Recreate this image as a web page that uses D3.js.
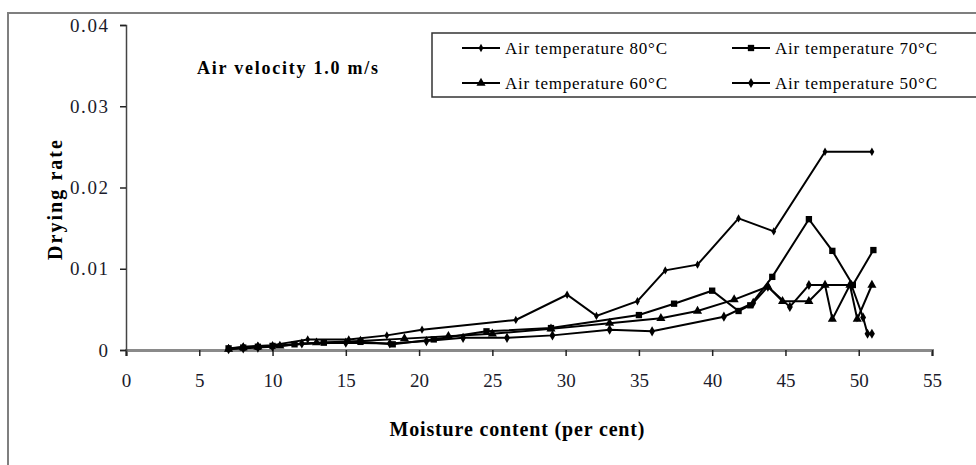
<!DOCTYPE html>
<html>
<head>
<meta charset="utf-8">
<script src="https://cdn.jsdelivr.net/npm/d3@7"></script>
<style>
  body { margin: 0; background: #fff; }
  text { font-family: "Liberation Serif", "Times New Roman", serif; }
</style>
</head>
<body>
<svg width="976" height="465"></svg>
<script>
const svg = d3.select("svg");

// Data: [moisture content, drying rate]
const t80 = [[7,0.0002],[8,0.0004],[9,0.0005],[10,0.0006],[12.4,0.0013],[15.2,0.0013],[17.8,0.0018],[20.2,0.0025],[26.6,0.0037],[30.1,0.0068],[32.1,0.0042],[34.9,0.006],[36.8,0.0098],[39,0.0105],[41.8,0.0162],[44.2,0.0146],[47.7,0.0244],[50.9,0.0244]];
const t70 = [[7,0.0002],[8,0.0003],[9,0.0004],[10,0.0005],[11.5,0.0007],[13.5,0.0009],[16,0.001],[18.2,0.0007],[21,0.0013],[24.6,0.0023],[29,0.0027],[35,0.0043],[37.4,0.0057],[40,0.0073],[41.8,0.0048],[42.6,0.0055],[44.1,0.009],[46.6,0.0161],[48.2,0.0122],[49.6,0.008],[51,0.0123]];
const t60 = [[7,0.0001],[8,0.0003],[9,0.0004],[10.5,0.0005],[13,0.0009],[16,0.0011],[19,0.0014],[22,0.0017],[25,0.002],[29,0.0026],[33,0.0033],[36.5,0.0039],[39,0.0048],[41.5,0.0062],[43.8,0.0078],[44.8,0.006],[46.6,0.006],[47.7,0.008],[48.2,0.0038],[49.4,0.008],[49.9,0.0038],[50.9,0.008]];
const t50 = [[7,0.0001],[8,0.0002],[9,0.0003],[10,0.0004],[12,0.0008],[15,0.0009],[18,0.0008],[20.5,0.0011],[23,0.0015],[26,0.0015],[29.1,0.0018],[33,0.0025],[35.9,0.0023],[40.8,0.0041],[42.8,0.0058],[43.8,0.0078],[45.3,0.0053],[46.6,0.008],[49.5,0.008],[50.3,0.004],[50.6,0.002],[50.9,0.002]];

const seriesNames = ["Air temperature 80°C", "Air temperature 70°C", "Air temperature 60°C", "Air temperature 50°C"];
const seriesData = [t80, t70, t60, t50];
const seriesShapes = [d3.symbolDiamond, d3.symbolSquare, d3.symbolTriangle, d3.symbolDiamond];
const seriesSizes = [20, 40, 36, 30];

const xTicks = [0, 5, 10, 15, 20, 25, 30, 35, 40, 45, 50, 55];
const yTicks = [0, 0.01, 0.02, 0.03, 0.04];

// outer frame
svg.append("rect")
    .attr("x", 8).attr("y", 13)
    .attr("width", 1000).attr("height", 500)
    .attr("fill", "none").attr("stroke", "#7f7f7f").attr("stroke-width", 2);

const xScale = d3.scaleLinear().domain([0, 55]).range([126, 932]);
const yScale = d3.scaleLinear().domain([0, 0.04]).range([350, 25]);

// axes
const xAxis = svg.append("g")
    .attr("transform", "translate(0,350)")
    .call(d3.axisBottom(xScale).tickValues(xTicks).tickSize(6).tickPadding(18).tickFormat(d3.format("d")));
xAxis.select(".domain").attr("stroke", "#8a8a8a").attr("stroke-width", 3);
xAxis.selectAll(".tick line").attr("stroke", "#222").attr("stroke-width", 1.5);
xAxis.selectAll("text").attr("font-size", 19).attr("fill", "#1b1b2b");

const yAxis = svg.append("g")
    .attr("transform", "translate(126,0)")
    .call(d3.axisLeft(yScale).tickValues(yTicks).tickSize(6).tickPadding(12).tickFormat(d => d === 0 ? "0" : d3.format(".2f")(d)));
yAxis.select(".domain").attr("stroke", "#444").attr("stroke-width", 1.5);
yAxis.selectAll(".tick line").attr("stroke", "#222").attr("stroke-width", 1.5);
yAxis.selectAll("text").attr("font-size", 19).attr("fill", "#1b1b2b")
    .attr("textLength", d => d === 0 ? null : 38);

// axis titles
svg.append("text")
    .attr("x", 517).attr("y", 436)
    .attr("text-anchor", "middle")
    .attr("font-size", 20).attr("font-weight", "bold")
    .attr("textLength", 255)
    .text("Moisture content (per cent)");

svg.append("text")
    .attr("transform", "translate(62,200) rotate(-90)")
    .attr("text-anchor", "middle")
    .attr("font-size", 20).attr("font-weight", "bold")
    .attr("textLength", 120)
    .text("Drying rate");

svg.append("text")
    .attr("x", 197).attr("y", 74)
    .attr("font-size", 18).attr("font-weight", "bold")
    .attr("textLength", 181)
    .text("Air velocity 1.0 m/s");

// series
const line = d3.line().x(d => xScale(d[0])).y(d => yScale(d[1]));

seriesData.forEach((data, i) => {
    svg.append("path")
        .datum(data)
        .attr("d", line)
        .attr("fill", "none")
        .attr("stroke", "#000")
        .attr("stroke-width", 2);

    svg.selectAll(`.pt-${i}`)
        .data(data)
        .enter().append("path")
        .attr("class", `pt-${i}`)
        .attr("transform", d => `translate(${xScale(d[0])},${yScale(d[1])})`)
        .attr("d", d3.symbol().type(seriesShapes[i]).size(seriesSizes[i]))
        .attr("fill", "#000");
});

// legend
svg.append("rect")
    .attr("x", 432).attr("y", 33)
    .attr("width", 600).attr("height", 64)
    .attr("fill", "#fff").attr("stroke", "#333").attr("stroke-width", 1.5);

const legendPos = [[462, 48], [732, 48], [462, 83], [732, 83]];
seriesNames.forEach((name, i) => {
    const [lx, ly] = legendPos[i];
    svg.append("line")
        .attr("x1", lx).attr("x2", lx + 38)
        .attr("y1", ly).attr("y2", ly)
        .attr("stroke", "#000").attr("stroke-width", 2);
    svg.append("path")
        .attr("transform", `translate(${lx + 19},${ly})`)
        .attr("d", d3.symbol().type(seriesShapes[i]).size(seriesSizes[i]))
        .attr("fill", "#000");
    svg.append("text")
        .attr("x", lx + 43).attr("y", ly + 6)
        .attr("font-size", 17)
        .attr("textLength", 162)
        .text(name);
});
</script>
</body>
</html>
